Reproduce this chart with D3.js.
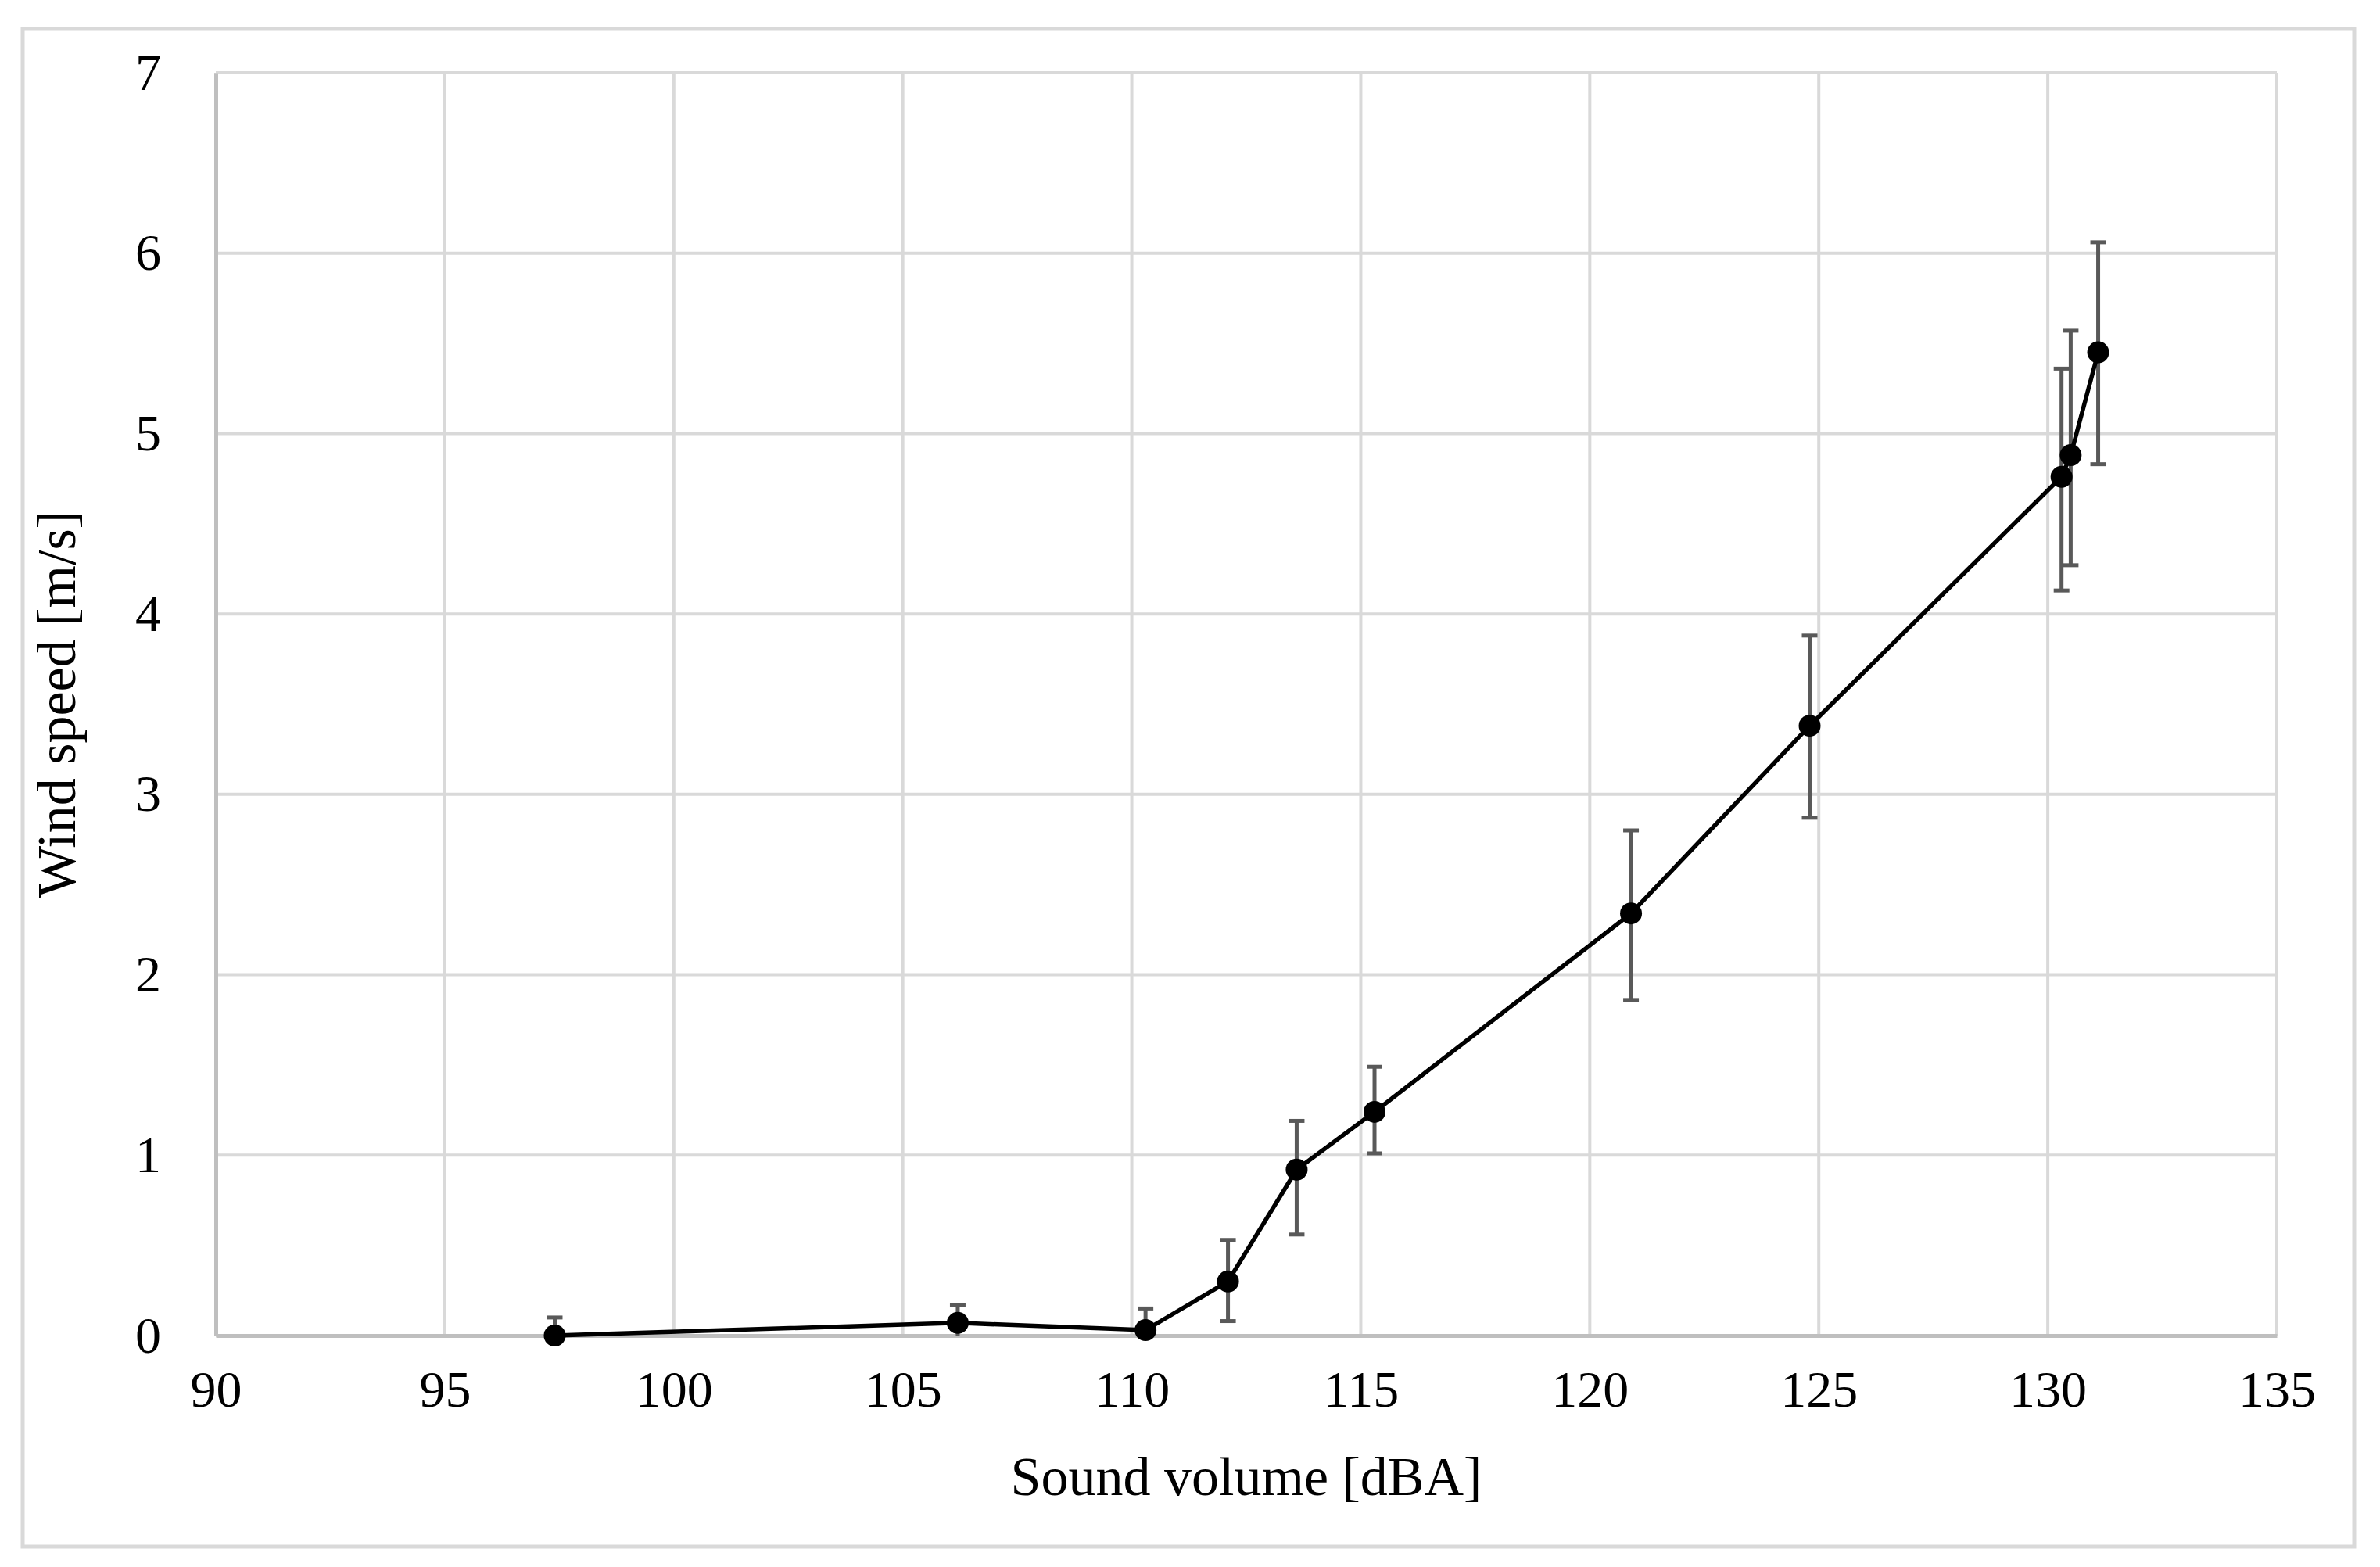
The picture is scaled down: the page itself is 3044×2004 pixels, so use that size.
<!DOCTYPE html>
<html><head><meta charset="utf-8">
<script src="https://cdn.jsdelivr.net/npm/d3@7"></script>
<style>body{margin:0;background:#fff}</style></head>
<body><svg id="c" width="3044" height="2004"></svg>
<script>
const soundVolume = [97.4, 106.2, 110.3, 112.1, 113.6, 115.3, 120.9, 124.8, 130.3, 130.5, 131.1];
const windSpeed   = [0.0, 0.07, 0.03, 0.30, 0.92, 1.24, 2.34, 3.38, 4.76, 4.88, 5.45];
const errPlus     = [0.10, 0.10, 0.12, 0.23, 0.27, 0.25, 0.46, 0.50, 0.60, 0.69, 0.61];
const errMinus    = [0.10, 0.10, 0.12, 0.22, 0.36, 0.23, 0.48, 0.51, 0.63, 0.61, 0.62];
const xTicks = [90,95,100,105,110,115,120,125,130,135];
const yTicks = [0,1,2,3,4,5,6,7];

const svg = d3.select("#c");
const L=276, R=2912, T=93, B=1708;
const x = d3.scaleLinear().domain([90,135]).range([L,R]);
const y = d3.scaleLinear().domain([0,7]).range([B,T]);
const font = "'Liberation Serif', 'Times New Roman', serif";

svg.append("rect").attr("x",29).attr("y",37).attr("width",2982).attr("height",1941)
  .attr("fill","#fff").attr("stroke","#d9d9d9").attr("stroke-width",5);

svg.append("g").selectAll("line").data(xTicks).join("line")
  .attr("x1",d=>x(d)).attr("x2",d=>x(d)).attr("y1",T).attr("y2",B)
  .attr("stroke","#d9d9d9").attr("stroke-width",4);
svg.append("g").selectAll("line").data(yTicks).join("line")
  .attr("x1",L).attr("x2",R).attr("y1",d=>y(d)).attr("y2",d=>y(d))
  .attr("stroke","#d9d9d9").attr("stroke-width",4);

const xa = svg.append("g").attr("transform",`translate(0,${B})`)
  .call(d3.axisBottom(x).tickValues(xTicks).tickFormat(d3.format("d")).tickSize(0).tickPadding(44));
const ya = svg.append("g").attr("transform",`translate(${L},0)`)
  .call(d3.axisLeft(y).tickValues(yTicks).tickFormat(d3.format("d")).tickSize(0).tickPadding(70));
[xa,ya].forEach(a=>{
  a.select(".domain").attr("stroke","#bfbfbf").attr("stroke-width",5);
  a.selectAll("text").attr("font-family",font).attr("font-size",66).attr("fill","#000");
});

const eb = svg.append("g").attr("stroke","#595959").attr("stroke-width",5);
soundVolume.forEach((v,i)=>{
  const cx=x(v), hi=y(windSpeed[i]+errPlus[i]), lo=y(Math.max(0,windSpeed[i]-errMinus[i]));
  eb.append("line").attr("x1",cx).attr("x2",cx).attr("y1",hi).attr("y2",lo);
  eb.append("line").attr("x1",cx-10).attr("x2",cx+10).attr("y1",hi).attr("y2",hi);
  if (windSpeed[i]-errMinus[i] > 0)
    eb.append("line").attr("x1",cx-10).attr("x2",cx+10).attr("y1",lo).attr("y2",lo);
});

const pts = soundVolume.map((v,i)=>[v,windSpeed[i]]);
svg.append("path").datum(pts)
  .attr("d",d3.line().x(d=>x(d[0])).y(d=>y(d[1])))
  .attr("fill","none").attr("stroke","#000").attr("stroke-width",5.5);
svg.append("g").selectAll("circle").data(pts).join("circle")
  .attr("cx",d=>x(d[0])).attr("cy",d=>y(d[1])).attr("r",14).attr("fill","#000");

svg.append("text").attr("x",(L+R)/2).attr("y",1912).attr("text-anchor","middle")
  .attr("font-family",font).attr("font-size",70).text("Sound volume [dBA]");
svg.append("text").attr("transform",`translate(96,${(T+B)/2}) rotate(-90)`)
  .attr("text-anchor","middle").attr("font-family",font).attr("font-size",70)
  .text("Wind speed [m/s]");
</script></body></html>
